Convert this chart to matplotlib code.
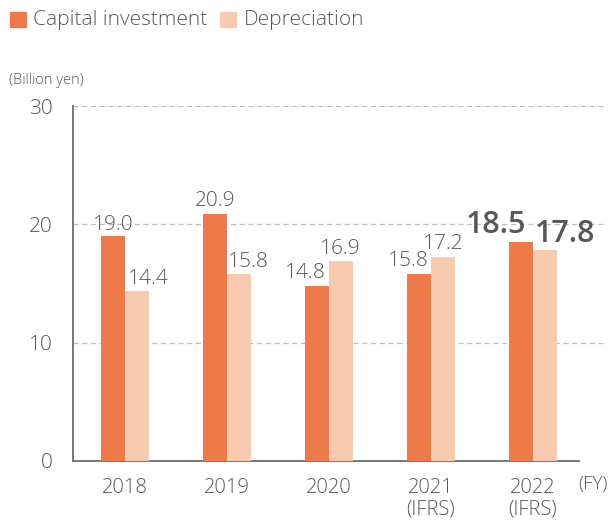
import matplotlib
matplotlib.use("Agg")
import matplotlib.pyplot as plt
from matplotlib.patches import Rectangle
import numpy as np

years = ["2018", "2019", "2020", "2021\n(IFRS)", "2022\n(IFRS)"]
capital = [19.0, 20.9, 14.8, 15.8, 18.5]
depreciation = [14.4, 15.8, 16.9, 17.2, 17.8]
yticks = [0, 10, 20, 30]
series_names = ["Capital investment", "Depreciation"]

C_CAP = "#EC7A4A"
C_DEP = "#F8CBB0"
TXT = "#595757"
FONT = ["Open Sans", "DejaVu Sans"]
plt.rcParams["font.family"] = FONT
plt.rcParams["font.weight"] = 300

fig = plt.figure(figsize=(6.12, 5.23), dpi=100)
ax = fig.add_axes([73.3 / 612, 1 - 461 / 523, (607 - 73.3) / 612, (461 - 106) / 523])

x = np.arange(len(years))
w = 0.2353
ax.bar(x - w / 2, capital, width=w, color=C_CAP, zorder=3)
ax.bar(x + w / 2, depreciation, width=w, color=C_DEP, zorder=3)

ax.set_xlim(-0.507, 4.725)
ax.set_ylim(0, 30)

# label offsets in pixels (dx, dy) and style
cap_off = [(0, 6.5), (0, 7.5), (-12, 7.5), (-11, 8), (-25, 9)]
dep_off = [(11.5, 7), (9.5, 7), (-1, 7.5), (0.5, 8), (20, 8.5)]
for i in range(len(years)):
    big = i == len(years) - 1
    fs = 22 if big else 15
    fw = 600 if big else 300
    ax.annotate(f"{capital[i]:.1f}", (x[i] - w / 2, capital[i]), xytext=cap_off[i],
                textcoords="offset pixels", ha="center", va="baseline",
                fontsize=fs, fontweight=fw, color=TXT, zorder=4)
    ax.annotate(f"{depreciation[i]:.1f}", (x[i] + w / 2, depreciation[i]), xytext=dep_off[i],
                textcoords="offset pixels", ha="center", va="baseline",
                fontsize=fs, fontweight=fw, color=TXT, zorder=4)

# grid
for yv in yticks[1:]:
    ax.axhline(yv, color="#BDBDBD", lw=0.9, ls=(0, (4, 3)), zorder=1)

for s in ["top", "right"]:
    ax.spines[s].set_visible(False)
ax.spines["left"].set_color("#6b6b6b")
ax.spines["left"].set_linewidth(1.3)
ax.spines["bottom"].set_color("#6b6b6b")
ax.spines["bottom"].set_linewidth(1.3)
ax.spines["bottom"].set_bounds(-0.507, 4.45)
ax.spines["left"].set_zorder(5)

ax.set_yticks(yticks)
ax.set_yticklabels([str(v) for v in yticks])
ax.set_xticks(x)
ax.set_xticklabels(years, linespacing=1.1)
ax.tick_params(axis="y", length=0, pad=15, labelsize=15, labelcolor=TXT)
ax.tick_params(axis="x", length=0, pad=12, labelsize=14.5, labelcolor=TXT)

fig.text(9 / 612, 1 - 80 / 523, "(Billion yen)", fontsize=10.5, color=TXT, va="center", ha="left")
fig.text(578 / 612, 1 - 484 / 523, "(FY)", fontsize=13.5, color=TXT, va="center", ha="left")

# legend
fig.add_artist(Rectangle((9.5 / 612, 1 - 26.7 / 523), 16 / 612, 15 / 523,
                         transform=fig.transFigure, color=C_CAP))
fig.text(33 / 612, 1 - 19.5 / 523, series_names[0], fontsize=15, color=TXT, va="center", ha="left")
fig.add_artist(Rectangle((220 / 612, 1 - 26.7 / 523), 16 / 612, 15 / 523,
                         transform=fig.transFigure, color=C_DEP))
fig.text(244 / 612, 1 - 19.5 / 523, series_names[1], fontsize=15, color=TXT, va="center", ha="left")

fig.savefig("out.png", dpi=100)
